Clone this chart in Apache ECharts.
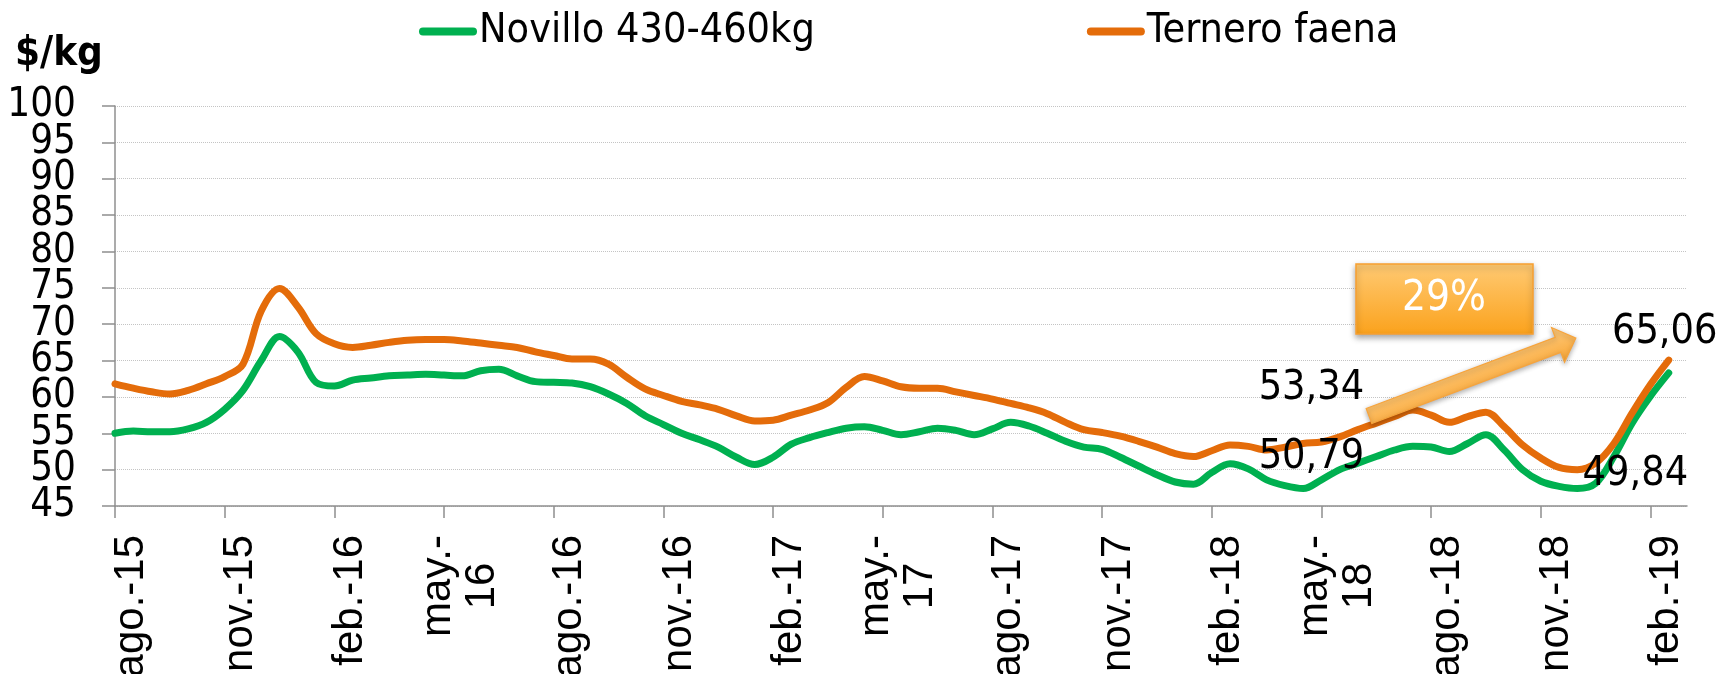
<!DOCTYPE html>
<html><head><meta charset="utf-8">
<script src="https://cdn.jsdelivr.net/npm/echarts@6/dist/echarts.min.js"></script>
<style>html,body{margin:0;padding:0;background:#fff}#c{width:1721px;height:674px}</style>
</head><body><div id="c"></div>
<script>
// Monthly axis months (ago.-15 .. mar.-19); data are half-monthly
const months = ['ago.-15','sep.-15','oct.-15','nov.-15','dic.-15','ene.-16','feb.-16','mar.-16','abr.-16','may.-16','jun.-16','jul.-16',
  'ago.-16','sep.-16','oct.-16','nov.-16','dic.-16','ene.-17','feb.-17','mar.-17','abr.-17','may.-17','jun.-17','jul.-17',
  'ago.-17','sep.-17','oct.-17','nov.-17','dic.-17','ene.-18','feb.-18','mar.-18','abr.-18','may.-18','jun.-18','jul.-18',
  'ago.-18','sep.-18','oct.-18','nov.-18','dic.-18','ene.-19','feb.-19','mar.-19'];
const tickLabels = ['ago.-15','nov.-15','feb.-16','may.-16','ago.-16','nov.-16','feb.-17','may.-17','ago.-17','nov.-17','feb.-18','may.-18','ago.-18','nov.-18','feb.-19'];
const yTicks = {min: 45, max: 100, step: 5};

const novillo = [55.0,55.3,55.2,55.2,55.6,56.5,58.3,60.9,65.0,68.3,66.2,62.0,61.5,62.3,62.6,62.9,63.0,63.1,63.0,62.9,63.6,63.8,62.9,
  62.1,62.0,61.9,61.4,60.4,59.1,57.4,56.2,55.0,54.1,53.1,51.7,50.7,51.7,53.5,54.4,55.1,55.7,55.9,55.4,54.8,55.2,
  55.7,55.4,54.8,55.6,56.5,56.0,55.0,53.9,53.1,52.8,51.7,50.5,49.3,48.3,48.0,49.6,50.8,50.1,48.6,47.8,47.4,48.6,
  50.0,50.9,51.8,52.7,53.2,53.1,52.5,53.6,54.8,52.7,50.0,48.4,47.7,47.4,48.1,51.8,56.4,60.1,63.3];
const ternero = [61.8,61.2,60.7,60.4,60.9,61.8,62.8,64.5,71.8,74.9,72.4,68.7,67.3,66.8,67.1,67.5,67.8,67.9,67.9,67.7,67.4,67.1,66.8,
  66.2,65.7,65.2,65.2,64.5,62.7,61.1,60.2,59.4,58.9,58.3,57.4,56.7,56.8,57.5,58.2,59.2,61.3,62.8,62.2,61.4,61.2,
  61.2,60.7,60.2,59.7,59.1,58.5,57.7,56.5,55.5,55.1,54.6,53.9,53.1,52.2,51.8,52.6,53.4,53.2,52.7,53.1,53.6,53.8,
  54.5,55.5,56.4,57.3,58.2,57.5,56.5,57.3,57.9,55.9,53.4,51.6,50.3,50.0,50.9,53.6,57.8,61.7,65.06];
const callouts = [
  {series: 'Ternero faena', idx: 66, text: '53,34', dx: -10, dy: -54},
  {series: 'Novillo 430-460kg', idx: 66, text: '50,79', dx: -10, dy: -22},
  {series: 'Ternero faena', idx: 85, text: '65,06', dx: -4, dy: -28},
  {series: 'Ternero faena', idx: 80, text: '49,84', dx: 58, dy: 5}
];
const changeText = '29%';

const categories = [];
months.forEach((m, i) => { categories.push(m); if (i < months.length - 1) categories.push(m + ' 15'); });

const cond = "'DejaVu Sans Condensed', 'DejaVu Sans', sans-serif";
const arial = "'Liberation Sans', Arial, sans-serif";
const GREEN = '#00B050', ORANGE = '#E46C0A';
const AXIS = '#8f8f8f';

function marks(name, data) {
  return callouts.filter(c => c.series === name).map(c => ({
    coord: [categories[c.idx], data[c.idx]],
    label: {formatter: c.text, offset: [c.dx, c.dy]}
  }));
}

// y labels split over two overlaid axes (alternate ticks) so none get hidden by overlap logic
function yAxisDef(showEven, main) {
  return {
    type: 'value', position: 'left', offset: 0, min: yTicks.min, max: yTicks.max, interval: yTicks.step,
    axisLine: {show: main, lineStyle: {color: AXIS, width: 1.5}},
    axisTick: {show: main, length: 13, lineStyle: {color: AXIS, width: 1.5}},
    axisLabel: {fontFamily: cond, fontSize: 40, color: '#000', margin: 8, showMinLabel: true, showMaxLabel: true, hideOverlap: false,
      formatter: v => ((Math.round(v) % 10 === 0) === showEven) ? '{v|' + v + '}' : '',
      rich: {v: {fontFamily: cond, fontSize: 40, color: '#000', padding: [0, 31, 0, 0]}}},
    splitLine: {show: main, lineStyle: {type: 'dotted', color: '#c4c4c4', width: 1}}
  };
}

const chart = echarts.init(document.getElementById('c'), null, {renderer: 'canvas'});
const legendIcon = 'path://M4,0 H54 A4,4 0 0 1 54,8 H4 A4,4 0 0 1 4,0 Z';

chart.setOption({
  animation: false,
  backgroundColor: '#fff',
  title: {text: '$/kg', left: 10, top: 30, textStyle: {fontFamily: cond, fontWeight: 'bold', fontSize: 40, color: '#000'}},
  legend: {
    left: 414, top: 6, itemWidth: 58, itemHeight: 8, itemGap: 272,
    icon: legendIcon,
    textStyle: {fontFamily: cond, fontSize: 41, color: '#000', padding: [0,0,0,-3]},
    data: ['Novillo 430-460kg', 'Ternero faena']
  },
  grid: {left: 115, right: 34, top: 106, bottom: 168, containLabel: false, outerBoundsMode: 'none'},
  xAxis: {
    type: 'category', data: categories, boundaryGap: false,
    axisLine: {lineStyle: {color: AXIS, width: 1.5}},
    axisTick: {interval: 5, length: 12, lineStyle: {color: AXIS, width: 1.5}},
    axisLabel: {
      interval: 5, rotate: 90, align: 'right', verticalAlign: 'middle', margin: 29,
      fontFamily: arial, fontSize: 42, color: '#000', lineHeight: 44,
      formatter: (v, i) => {
        const t = tickLabels[Math.round(i / 6)] || '';
        if (t.startsWith('may.')) { const p = t.split('-'); return '{a|' + p[0] + '-}\n{b|' + p[1] + '}'; }
        return '{a|' + t + '}';
      },
      rich: {
        a: {fontFamily: arial, fontSize: 42, lineHeight: 44, color: '#000', padding: [32, 0, 0, 0]},
        b: {fontFamily: arial, fontSize: 42, lineHeight: 44, color: '#000', align: 'center', padding: [32, 0, 0, 0]}
      }
    },
    splitLine: {show: false}
  },
  yAxis: [yAxisDef(true, true), yAxisDef(false, false)],
  series: [
    {name: 'Novillo 430-460kg', type: 'line', yAxisIndex: 0, data: novillo, smooth: 0.35, showSymbol: false, symbol: 'none',
     lineStyle: {color: GREEN, width: 7, cap: 'round', join: 'round'}, itemStyle: {color: GREEN},
     markPoint: {symbol: 'circle', symbolSize: 0, silent: true,
       label: {show: true, position: 'inside', fontFamily: cond, fontSize: 41, color: '#000'},
       data: marks('Novillo 430-460kg', novillo)}},
    {name: 'Ternero faena', type: 'line', yAxisIndex: 0, data: ternero, smooth: 0.35, showSymbol: false, symbol: 'none',
     lineStyle: {color: ORANGE, width: 7, cap: 'round', join: 'round'}, itemStyle: {color: ORANGE},
     markPoint: {symbol: 'circle', symbolSize: 0, silent: true,
       label: {show: true, position: 'inside', fontFamily: cond, fontSize: 41, color: '#000'},
       data: marks('Ternero faena', ternero)}}
  ],
  graphic: [
    {type: 'polygon', z: 100, x: 1369, y: 416, rotation: 0.36,
     shape: {points: [[0,-8],[202,-8],[202,-18.5],[221,0],[202,18.5],[202,8],[0,8]]},
     style: {fill: new echarts.graphic.LinearGradient(0,0,0,1,[{offset:0,color:'#FDCB80'},{offset:1,color:'#F9A634'}]),
       stroke: '#F7A43C', lineWidth: 1.2, shadowBlur: 5, shadowColor: 'rgba(0,0,0,0.3)', shadowOffsetY: 2}},
    {type: 'rect', z: 100, shape: {x: 1356, y: 264, width: 177, height: 70},
     style: {fill: new echarts.graphic.LinearGradient(0,0,0,1,[{offset:0,color:'#FFCA74'},{offset:1,color:'#FBA21C'}]),
       stroke: '#F8A030', lineWidth: 1.5, shadowBlur: 6, shadowColor: 'rgba(0,0,0,0.35)', shadowOffsetY: 3}},
    {type: 'text', z: 101, x: 1444, y: 299,
     style: {text: changeText, fontFamily: cond, fontSize: 42, fill: '#fff', align: 'center', verticalAlign: 'middle'}}
  ]
});
</script></body></html>
